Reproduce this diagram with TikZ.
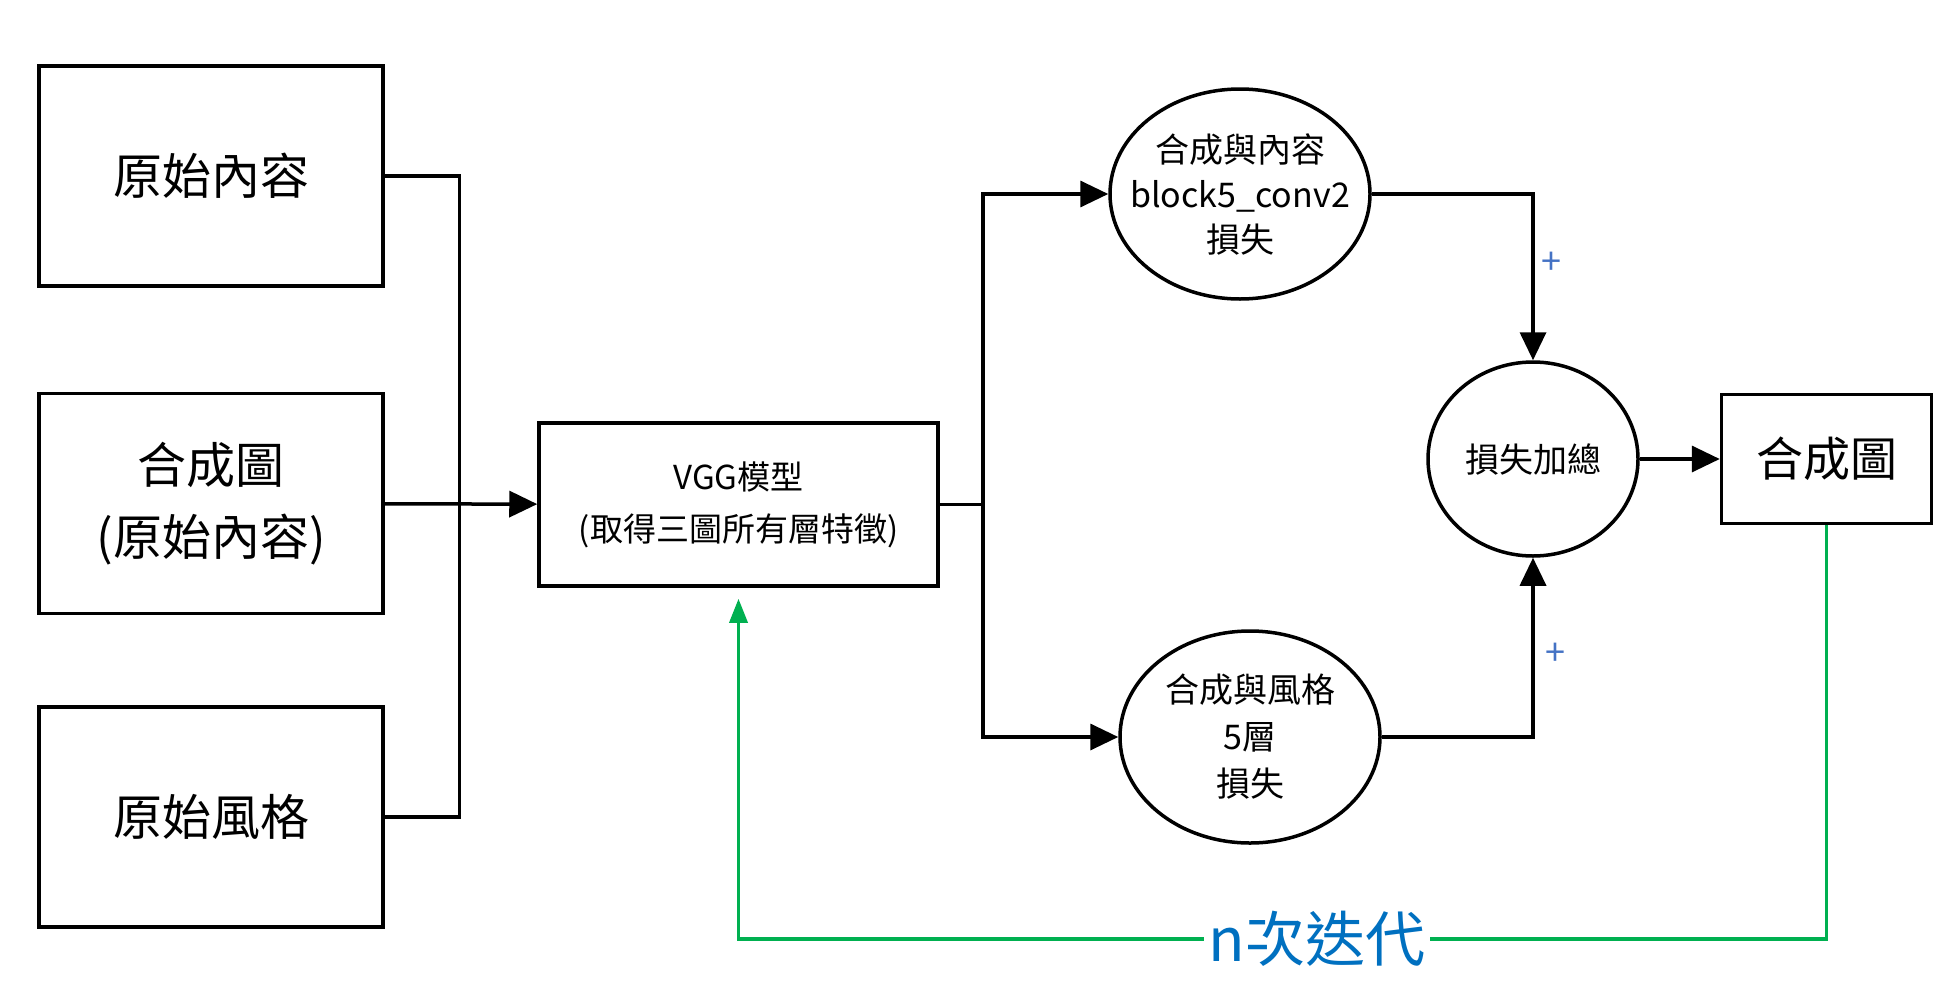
\documentclass[tikz,border=0pt]{standalone}
\usepackage{fontspec}
\setmainfont{Noto Sans CJK TC}
\usetikzlibrary{positioning}
\usetikzlibrary{arrows.meta}
\usetikzlibrary{shapes.geometric}
\definecolor{loopgreen}{RGB}{0,176,80}
\definecolor{loopblue}{RGB}{0,112,192}
\definecolor{plusblue}{RGB}{68,114,196}
\tikzset{x=1pt, y=-1pt, % One unit per pixel, y runs downwards
      box/.style={ % Sets the properties for each box
      draw, line width=3.5pt, inner sep=0pt, align=center},
      big/.style={ % Large text of the input boxes
      font=\fontsize{49}{72}\selectfont,
      minimum width=344pt, minimum height=220pt},
      loss/.style={ % Sets the properties for each ellipse
      draw, ellipse, line width=3.5pt, inner sep=0pt, align=center,
      font=\fontsize{34}{45}\selectfont},
      link/.style={ % Black connectors with arrowheads
      line width=3.5pt, -{Triangle[length=28pt,width=26pt]}},
      plain/.style={line width=3.5pt}, % Black connectors without arrowheads
      loopline/.style={ % Green iteration loop
      draw=loopgreen, line width=3.5pt, -{Triangle[length=24pt,width=18pt]}},
      plus/.style={text=plusblue, font=\fontsize{36}{36}\selectfont},
      iter/.style={text=loopblue, fill=white, inner xsep=5pt,
      font=\fontsize{60}{60}\selectfont}}

\begin{document}
\begin{tikzpicture}
      \useasboundingbox (0,0) rectangle (1958,998);
      \node[box, big] (b1) at (211,176) {原始內容};
      \node[box, big, below=104pt of b1] (b2) {合成圖\\(原始內容)};
      \node[box, big, below=90pt of b2] (b3) {原始風格};
      \node[box, font=\fontsize{33}{52}\selectfont, minimum width=399pt, minimum height=163pt] (vgg) at (738.5,504.5) {VGG模型\\(取得三圖所有層特徵)};
      \node[loss, inner xsep=-18pt, minimum width=260pt, minimum height=210pt] (c1) at (1240,194) {合成與內容\\block5\_conv2\\損失};
      \node[loss, font=\fontsize{34}{47}\selectfont, minimum width=260pt, minimum height=212pt] (c2) at (1250,737) {合成與風格\\5層\\損失};
      \node[loss, minimum width=210pt, minimum height=194pt] (sum) at (1533,459) {損失加總};
      \node[box, font=\fontsize{47}{47}\selectfont, minimum width=210pt, minimum height=129pt, right=80pt of sum] (out) {合成圖};
      \node[plus] (p1) at (1551,263) {+};
      \node[plus] (p2) at (1555,654) {+};
      \coordinate (j1) at (459.5,504.5);
      \coordinate (j2) at (983,504.5);
      \coordinate (g1) at (738.5,939);
      \draw[plain] (b1.east) -| (j1) |- (b3.east);
      \draw[link] (b2) -- (vgg);
      \draw[plain] (vgg) -- (j2);
      \draw[link] (j2) |- (c1);
      \draw[link] (j2) |- (c2);
      \draw[link] (c1) -| (sum);
      \draw[link] (c2) -| (sum);
      \draw[link] (sum) -- (out);
      \draw[loopline, shorten >=11pt] (out.south) |- (g1) -- (vgg.south);
      \node[iter] (n1) at (1317,939) {n次迭代};
\end{tikzpicture}
\end{document}
